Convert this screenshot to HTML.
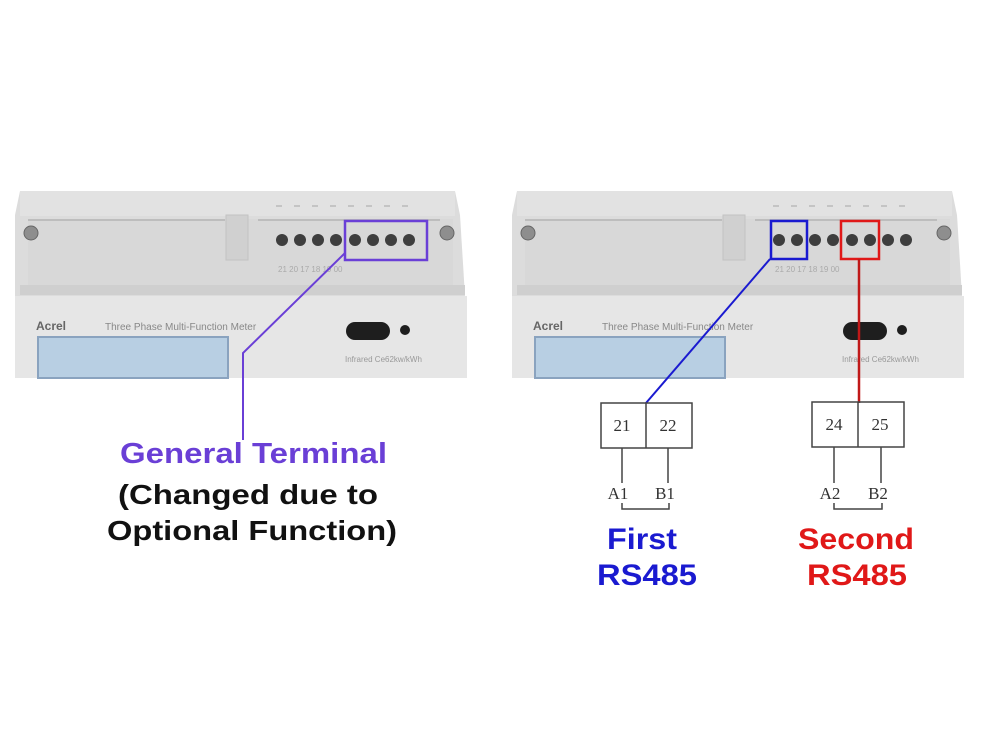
<!DOCTYPE html>
<html><head><meta charset="utf-8"><style>
html,body{margin:0;padding:0;background:#fff;}
svg{display:block;}
text{font-family:"Liberation Sans",sans-serif;}
</style></head><body>
<svg width="1000" height="739" viewBox="0 0 1000 739" xmlns="http://www.w3.org/2000/svg">
<defs>
<g id="meter">
  <path d="M20 191 L455 191 L460 215 L465 296 L15 296 L15 215 Z" fill="#dcdcdc"/>
  <rect x="20" y="191" width="435" height="25" fill="#e2e2e2"/>
  <rect x="28" y="219" width="425" height="75" fill="#d8d8d8"/>
  <line x1="28" y1="220" x2="225" y2="220" stroke="#bdbdbd" stroke-width="2"/>
  <line x1="258" y1="220" x2="440" y2="220" stroke="#bdbdbd" stroke-width="2"/>
  <rect x="226" y="215" width="22" height="45" fill="#d0d0d0" stroke="#c2c2c2"/>
  <rect x="20" y="285" width="445" height="10" fill="#cfcfcf"/>
  <g stroke="#c4c4c4" stroke-width="2">
    <line x1="276" y1="206" x2="282" y2="206"/><line x1="294" y1="206" x2="300" y2="206"/>
    <line x1="312" y1="206" x2="318" y2="206"/><line x1="330" y1="206" x2="336" y2="206"/>
    <line x1="348" y1="206" x2="354" y2="206"/><line x1="366" y1="206" x2="372" y2="206"/>
    <line x1="384" y1="206" x2="390" y2="206"/><line x1="402" y1="206" x2="408" y2="206"/>
  </g>
  <circle cx="31" cy="233" r="7" fill="#8e8e8e" stroke="#666"/>
  <circle cx="447" cy="233" r="7" fill="#8e8e8e" stroke="#666"/>
  <g fill="#3e3e3e">
    <circle cx="282" cy="240" r="6"/><circle cx="300" cy="240" r="6"/>
    <circle cx="318" cy="240" r="6"/><circle cx="336" cy="240" r="6"/>
    <circle cx="355" cy="240" r="6"/><circle cx="373" cy="240" r="6"/>
    <circle cx="391" cy="240" r="6"/><circle cx="409" cy="240" r="6"/>
  </g>
  <text x="278" y="272" font-size="8" fill="#aaa">21 20 17 18 19 00</text>
  <rect x="15" y="296" width="452" height="82" fill="#e6e6e6"/>
  <text x="36" y="330" font-size="12" font-weight="bold" fill="#666">Acrel</text>
  <text x="105" y="330" font-size="10" fill="#888" font-family="Liberation Mono">Three Phase Multi-Function Meter</text>
  <rect x="38" y="337" width="190" height="41" fill="#b8cfe3" stroke="#8aa3bf" stroke-width="2"/>
  <rect x="346" y="322" width="44" height="18" rx="9" fill="#1e1e1e"/>
  <circle cx="405" cy="330" r="5" fill="#1e1e1e"/>
  <text x="345" y="362" font-size="8" fill="#999">Infrared  Ce62kw/kWh</text>
</g>
</defs>
<use href="#meter"/>
<use href="#meter" x="497"/>

<rect x="345" y="221" width="82" height="39" fill="none" stroke="#6a3fd6" stroke-width="2.5"/>
<polyline points="345,253 243,353 243,440" fill="none" stroke="#6a3fd6" stroke-width="2"/>
<text x="120" y="463" textLength="267" lengthAdjust="spacingAndGlyphs" font-size="29" font-weight="bold" fill="#6a3fd6">General Terminal</text>
<text x="118" y="504" textLength="260" lengthAdjust="spacingAndGlyphs" font-size="28" font-weight="bold" fill="#111">(Changed due to</text>
<text x="107" y="540" textLength="290" lengthAdjust="spacingAndGlyphs" font-size="28" font-weight="bold" fill="#111">Optional Function)</text>

<rect x="771" y="221" width="36" height="38" fill="none" stroke="#1a1ad0" stroke-width="2.5"/>
<rect x="841" y="221" width="38" height="38" fill="none" stroke="#e01818" stroke-width="2.5"/>
<line x1="770" y1="259" x2="646" y2="403" stroke="#1a1ad0" stroke-width="2"/>
<line x1="859" y1="259" x2="859" y2="403" stroke="#c01818" stroke-width="2.5"/>

<g stroke="#444" stroke-width="1.5" fill="none">
  <rect x="601" y="403" width="91" height="45"/>
  <line x1="646" y1="403" x2="646" y2="448"/>
  <line x1="622" y1="448" x2="622" y2="483"/><line x1="668" y1="448" x2="668" y2="483"/>
  <polyline points="622,503 622,509 669,509 669,503"/>
  <rect x="812" y="402" width="92" height="45"/>
  <line x1="858" y1="402" x2="858" y2="447"/>
  <line x1="834" y1="447" x2="834" y2="483"/><line x1="881" y1="447" x2="881" y2="483"/>
  <polyline points="834,503 834,509 882,509 882,503"/>
</g>
<g font-size="17" fill="#333" text-anchor="middle">
  <text x="622" y="431" style="font-family:'Liberation Serif',serif">21</text>
  <text x="668" y="431" style="font-family:'Liberation Serif',serif">22</text>
  <text x="834" y="430" style="font-family:'Liberation Serif',serif">24</text>
  <text x="880" y="430" style="font-family:'Liberation Serif',serif">25</text>
  <text x="618" y="499" style="font-family:'Liberation Serif',serif">A1</text>
  <text x="665" y="499" style="font-family:'Liberation Serif',serif">B1</text>
  <text x="830" y="499" style="font-family:'Liberation Serif',serif">A2</text>
  <text x="878" y="499" style="font-family:'Liberation Serif',serif">B2</text>
</g>
<text x="607" y="549" textLength="70" lengthAdjust="spacingAndGlyphs" font-size="30" font-weight="bold" fill="#1a1ad0">First</text>
<text x="597" y="585" textLength="100" lengthAdjust="spacingAndGlyphs" font-size="30" font-weight="bold" fill="#1a1ad0">RS485</text>
<text x="798" y="549" textLength="116" lengthAdjust="spacingAndGlyphs" font-size="30" font-weight="bold" fill="#e01818">Second</text>
<text x="807" y="585" textLength="100" lengthAdjust="spacingAndGlyphs" font-size="30" font-weight="bold" fill="#e01818">RS485</text>
</svg>
</body></html>
